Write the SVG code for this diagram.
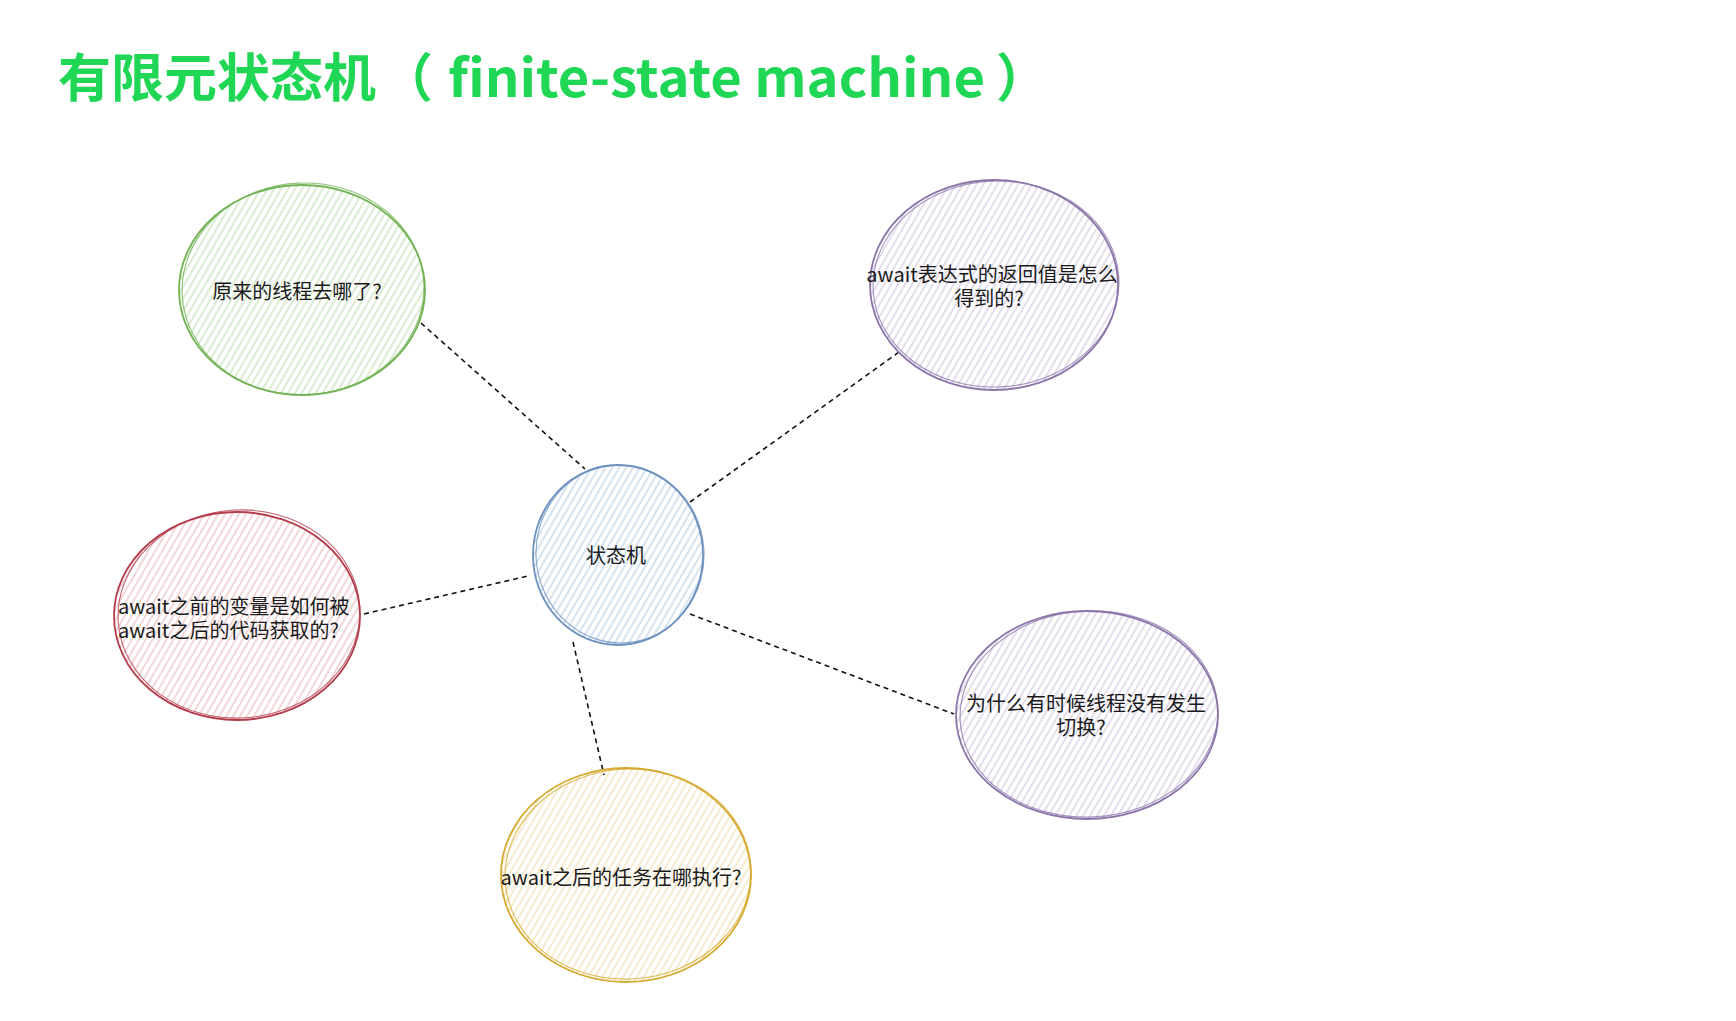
<svg xmlns="http://www.w3.org/2000/svg" width="1736" height="1021" viewBox="0 0 1736 1021">
  <style>
    .title { font-family: "Noto Sans CJK SC", "Noto Sans", sans-serif; font-weight: 700; fill: #1fd655; }
    .lbl { font-family: "Noto Sans CJK SC", "Noto Sans", sans-serif; font-size: 20px; fill: #1a1a1a; text-anchor: middle; }
    .edge { stroke: #111; stroke-width: 1.6; stroke-dasharray: 5 4; fill: none; }
    .ol { fill: none; stroke-width: 1.8; }
    .ol2 { fill: none; stroke-width: 1.1; opacity: 0.8; }
  </style>
  <defs>
    <pattern id="hg" width="6" height="6" patternUnits="userSpaceOnUse" patternTransform="rotate(30)"><line x1="2" y1="0" x2="2" y2="6" stroke="#bddcae" stroke-width="1.1"/></pattern>
    <pattern id="hb" width="6" height="6" patternUnits="userSpaceOnUse" patternTransform="rotate(30)"><line x1="2" y1="0" x2="2" y2="6" stroke="#b2cbe3" stroke-width="1.1"/></pattern>
    <pattern id="hr" width="6" height="6" patternUnits="userSpaceOnUse" patternTransform="rotate(30)"><line x1="2" y1="0" x2="2" y2="6" stroke="#e8b5bb" stroke-width="1.1"/></pattern>
    <pattern id="hy" width="6" height="6" patternUnits="userSpaceOnUse" patternTransform="rotate(30)"><line x1="2" y1="0" x2="2" y2="6" stroke="#eedaa8" stroke-width="1.1"/></pattern>
    <pattern id="hp" width="6" height="6" patternUnits="userSpaceOnUse" patternTransform="rotate(30)"><line x1="2" y1="0" x2="2" y2="6" stroke="#cdc2dc" stroke-width="1.1"/></pattern>
  </defs>
  <rect width="1736" height="1021" fill="#ffffff"/>

  <g id="title">
    <text class="title" y="97" font-size="52"><tspan x="58" textLength="318" lengthAdjust="spacingAndGlyphs">有限元状态机</tspan><tspan x="381">（</tspan><tspan x="448" textLength="537" lengthAdjust="spacingAndGlyphs">finite-state machine</tspan><tspan x="996">）</tspan></text>
  </g>

  <g id="connectors">
    <line class="edge" x1="421" y1="323" x2="585" y2="469"/>
    <line class="edge" x1="690" y1="502" x2="899" y2="352"/>
    <line class="edge" x1="364" y1="614" x2="528" y2="576"/>
    <line class="edge" x1="573" y1="642" x2="604" y2="775"/>
    <line class="edge" x1="690" y1="614" x2="954" y2="714"/>
  </g>

  <g id="node-thread">
    <ellipse cx="302" cy="290" rx="123" ry="105" fill="url(#hg)"/>
    <ellipse class="ol" cx="302" cy="290" rx="123" ry="105" stroke="#72b355"/>
    <ellipse class="ol2" cx="303" cy="289" rx="121" ry="106" stroke="#72b355" transform="rotate(-3 303 289)"/>
    <text class="lbl" x="297" y="299">原来的线程去哪了?</text>
  </g>

  <g id="node-fsm">
    <ellipse cx="618" cy="555" rx="85" ry="90" fill="url(#hb)"/>
    <ellipse class="ol" cx="618" cy="555" rx="85" ry="90" stroke="#6e92c0"/>
    <ellipse class="ol2" cx="620" cy="554" rx="84" ry="89" stroke="#6e92c0" transform="rotate(-5 620 554)"/>
    <text class="lbl" x="616" y="563">状态机</text>
  </g>

  <g id="node-await-value">
    <ellipse cx="994" cy="285" rx="124" ry="105" fill="url(#hp)"/>
    <ellipse class="ol" cx="994" cy="285" rx="124" ry="105" stroke="#8b75a9"/>
    <ellipse class="ol2" cx="996" cy="284" rx="123" ry="103" stroke="#8b75a9" transform="rotate(-3 996 284)"/>
    <text class="lbl" x="992" y="282">await表达式的返回值是怎么</text>
    <text class="lbl" x="989" y="306">得到的?</text>
  </g>

  <g id="node-variables">
    <ellipse cx="237" cy="616" rx="123" ry="104" fill="url(#hr)"/>
    <ellipse class="ol" cx="237" cy="616" rx="123" ry="104" stroke="#b23c4b"/>
    <ellipse class="ol2" cx="239" cy="614" rx="121" ry="104" stroke="#b23c4b" transform="rotate(-4 239 614)"/>
    <text class="lbl" x="118" y="614" style="text-anchor:start">await之前的变量是如何被</text>
    <text class="lbl" x="118" y="638" style="text-anchor:start">await之后的代码获取的?</text>
  </g>

  <g id="node-task">
    <ellipse cx="626" cy="875" rx="125" ry="107" fill="url(#hy)"/>
    <ellipse class="ol" cx="626" cy="875" rx="125" ry="107" stroke="#d6a92e"/>
    <ellipse class="ol2" cx="628" cy="874" rx="123" ry="105" stroke="#d6a92e" transform="rotate(-4 628 874)"/>
    <text class="lbl" x="621" y="885">await之后的任务在哪执行?</text>
  </g>

  <g id="node-switch">
    <ellipse cx="1087" cy="715" rx="131" ry="104" fill="url(#hp)"/>
    <ellipse class="ol" cx="1087" cy="715" rx="131" ry="104" stroke="#8b75a9"/>
    <ellipse class="ol2" cx="1089" cy="714" rx="129" ry="103" stroke="#8b75a9" transform="rotate(-3 1089 714)"/>
    <text class="lbl" x="1086" y="711">为什么有时候线程没有发生</text>
    <text class="lbl" x="1081" y="735">切换?</text>
  </g>
</svg>
